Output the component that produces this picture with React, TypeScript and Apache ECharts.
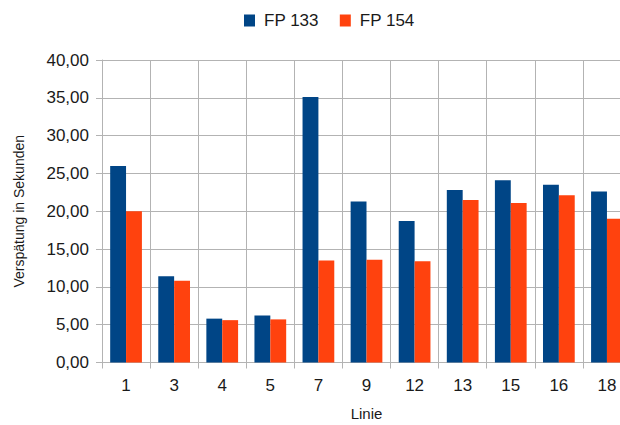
import React, { useEffect, useRef } from "react";
import * as echarts from "echarts";

const categories = ["1", "3", "4", "5", "7", "9", "12", "13", "15", "16", "18"];
const fp133 = [26.0, 11.4, 5.8, 6.2, 35.1, 21.3, 18.7, 22.8, 24.1, 23.5, 22.6];
const fp154 = [20.0, 10.8, 5.6, 5.7, 13.5, 13.6, 13.4, 21.5, 21.1, 22.1, 19.0];
const seriesNames = ["FP 133", "FP 154"];
const yMin = 0;
const yMax = 40;
const yStep = 5;

const FONT = "'Liberation Sans', Arial, sans-serif";
const GRID = "#b3b3b3";
const TEXT = "#1a1a1a";

export default function App() {
  const ref = useRef<HTMLDivElement>(null);
  useEffect(() => {
    if (!ref.current) return;
    const chart = echarts.init(ref.current, undefined, { renderer: "svg" });
    chart.setOption({
      animation: false,
      textStyle: { fontFamily: FONT },
      legend: {
        left: 239,
        top: 7,
        itemWidth: 11,
        itemHeight: 12,
        itemGap: 21,
        icon: "rect",
        textStyle: { fontSize: 17, color: TEXT, fontFamily: FONT, padding: [0, 0, 0, 4] },
        data: seriesNames,
      },
      grid: {
        left: 102,
        top: 60,
        bottom: 62.5,
        right: 0,
        containLabel: false,
        outerBoundsMode: "none",
      },
      xAxis: {
        type: "category",
        data: categories,
        name: "Linie",
        nameLocation: "middle",
        nameGap: 43,
        nameTextStyle: { fontSize: 15, color: TEXT, fontFamily: FONT },
        axisLine: { show: true, lineStyle: { color: GRID, width: 1 } },
        axisTick: { show: true, length: 6, lineStyle: { color: GRID } },
        splitLine: { show: true, interval: 0, lineStyle: { color: GRID, width: 1 } },
        axisLabel: { fontSize: 17, color: TEXT, margin: 14, fontFamily: FONT, interval: 0 },
      },
      yAxis: {
        type: "value",
        min: yMin,
        max: yMax,
        interval: yStep,
        name: "Verspätung in Sekunden",
        nameLocation: "middle",
        nameGap: 76,
        nameTextStyle: { fontSize: 14, color: TEXT, fontFamily: FONT },
        axisLine: { show: true, lineStyle: { color: GRID, width: 1 } },
        axisTick: { show: true, length: 6, lineStyle: { color: GRID } },
        splitLine: { show: true, lineStyle: { color: GRID, width: 1 } },
        axisLabel: {
          fontSize: 17,
          color: TEXT,
          margin: 13,
          fontFamily: FONT,
          formatter: (v: number) => v.toFixed(2).replace(".", ","),
        },
      },
      series: [
        {
          name: seriesNames[0],
          type: "bar",
          data: fp133,
          barGap: "0%",
          barCategoryGap: "34%",
          itemStyle: { color: "#004586" },
        },
        {
          name: seriesNames[1],
          type: "bar",
          data: fp154,
          barGap: "0%",
          barCategoryGap: "34%",
          itemStyle: { color: "#ff420e" },
        },
      ],
    });
    return () => chart.dispose();
  }, []);
  return (
    <div
      style={{
        position: "absolute",
        left: 0,
        top: 0,
        width: 620,
        height: 425,
        overflow: "hidden",
        background: "#fff",
      }}
    >
      <div ref={ref} style={{ width: 631, height: 425 }} />
    </div>
  );
}
